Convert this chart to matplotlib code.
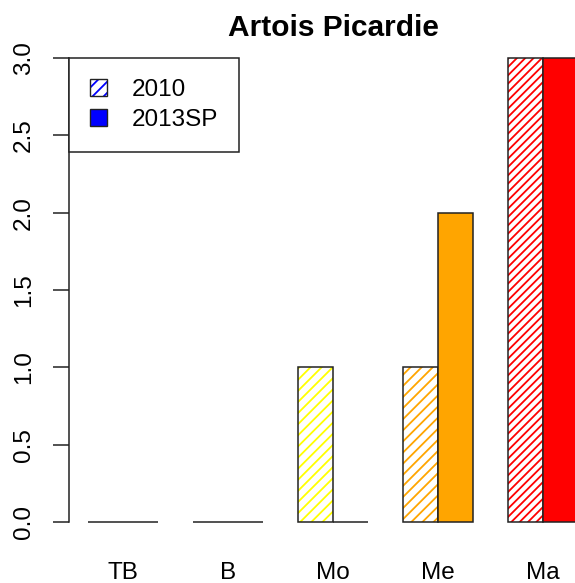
import matplotlib
matplotlib.use("Agg")
import matplotlib.pyplot as plt
from matplotlib.patches import Patch

plt.rcParams['font.family'] = ['Liberation Sans', 'DejaVu Sans']
plt.rcParams['hatch.linewidth'] = 1.3

# data
categories = ['TB', 'B', 'Mo', 'Me', 'Ma']
colors = ['blue', 'green', 'yellow', 'orange', 'red']
vals_2010 = [0, 0, 1, 1, 3]
vals_2013 = [0, 0, 0, 2, 3]
hatches = ['///', '///', '///', '///', '////']
yticks = [0.0, 0.5, 1.0, 1.5, 2.0, 2.5, 3.0]
ytick_labels = ['0.0', '0.5', '1.0', '1.5', '2.0', '2.5', '3.0']

W, H = 575, 583
fig = plt.figure(figsize=(W / 100, H / 100), dpi=100)
ax = fig.add_axes([69 / W, (H - 522) / H, 506 / W, 464 / H])

# R-style positions: bar width 1, gap of 1 between groups
left1 = [1 + 3 * i for i in range(len(categories))]
left2 = [2 + 3 * i for i in range(len(categories))]
centers = [2 + 3 * i for i in range(len(categories))]

for i in range(len(categories)):
    # hatched 2010 bar
    ax.bar(left1[i], vals_2010[i], width=1, align='edge', facecolor='white',
           edgecolor=colors[i], hatch=hatches[i], linewidth=0, clip_on=False)
    ax.bar(left1[i], vals_2010[i], width=1, align='edge', fill=False,
           edgecolor='#222222', linewidth=1.1, clip_on=False)
    # solid 2013SP bar
    ax.bar(left2[i], vals_2013[i], width=1, align='edge', facecolor=colors[i],
           edgecolor='#222222', linewidth=1.1, clip_on=False)

ax.set_xlim((69 - 53) / 35, (575 - 53) / 35)
ax.set_ylim(0, 3)

for s in ['top', 'right', 'bottom']:
    ax.spines[s].set_visible(False)
ax.spines['left'].set_bounds(0, 3)
ax.spines['left'].set_linewidth(1.1)
ax.spines['left'].set_color('#222222')

ax.set_yticks(yticks)
ax.set_yticklabels(ytick_labels, rotation=90, va='center', fontsize=17.5)
ax.tick_params(axis='y', length=11.5, width=1.1, pad=13, color='#222222')

ax.set_xticks(centers)
ax.set_xticklabels(categories, fontsize=17.5)
ax.tick_params(axis='x', length=0, pad=29)

fig.text(333 / W, 1 - 28 / H, 'Artois Picardie', ha='center', va='center',
         fontsize=21.5, fontweight='bold')

hatched = (Patch(facecolor='white', edgecolor='blue', hatch='///', linewidth=0),
           Patch(fill=False, edgecolor='#222222', linewidth=1))
solid = Patch(facecolor='blue', edgecolor='#222222', linewidth=1)
leg = ax.legend([hatched, solid], ['2010', '2013SP'], loc='upper left',
                bbox_to_anchor=(0, 1), borderaxespad=0, fontsize=17.5,
                fancybox=False, framealpha=1, edgecolor='#222222',
                handlelength=0.72, handleheight=0.7, handletextpad=1.0,
                labelspacing=0.35, borderpad=0.85)
leg.get_frame().set_linewidth(1.1)
leg.set_zorder(5)

fig.savefig('out.png', dpi=100)
